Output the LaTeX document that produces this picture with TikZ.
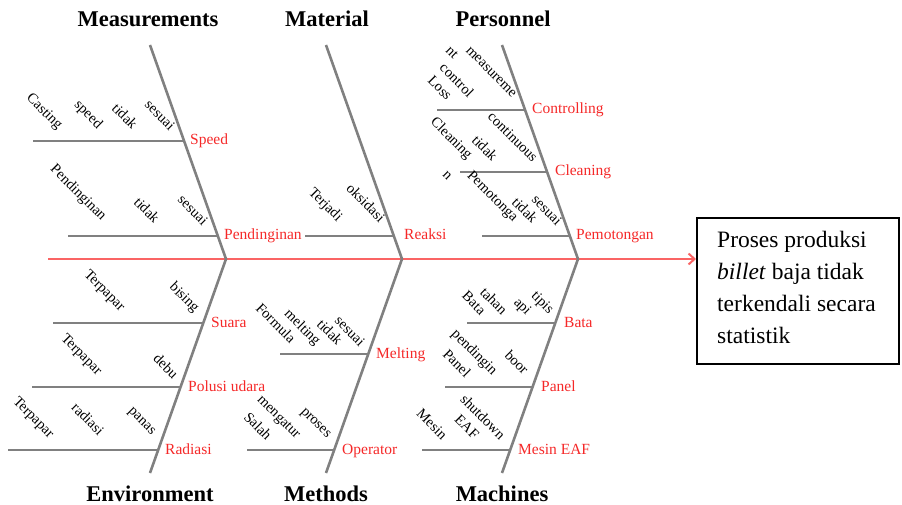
\documentclass[tikz,border=0pt]{standalone}
\usepackage{fontspec}
\setmainfont{Liberation Serif}
\usetikzlibrary{arrows.meta}
\definecolor{bonegray}{RGB}{128,128,128}
\definecolor{spinered}{RGB}{250,100,100}
\definecolor{labred}{RGB}{245,40,40}
\begin{document}
\begin{tikzpicture}[x=1pt,y=-1pt,
  bone/.style={draw=bonegray,line width=2.6pt},
  twig/.style={draw=bonegray,line width=2.6pt},
  title/.style={font=\fontsize{22.5}{26}\selectfont\bfseries,anchor=center,inner sep=0pt},
  cause/.style={font=\fontsize{15.5}{18}\selectfont,text=labred,anchor=base west,inner sep=0pt},
  word/.style={font=\fontsize{14.5}{16}\selectfont,rotate=-45,anchor=center,inner sep=0pt}]
\useasboundingbox (0,0) rectangle (902,505);
% effect box
\node[draw=black,line width=1.8pt,minimum width=202pt,minimum height=146pt,anchor=north west,inner sep=0pt] (effect) at (696,217) {};
\node[font=\fontsize{23.5}{32}\selectfont,anchor=north west,align=left,inner sep=0pt] (efftext) at (717,231)
  {Proses produksi\\\textit{billet} baja tidak\\terkendali secara\\statistik};
% spine
\coordinate (tail) at (48,259);
\draw[draw=spinered,line width=2pt,-{Straight Barb[length=6pt,width=11pt,line width=2pt]}] (tail) -- (tail -| effect.west);
% bone joints
\coordinate (j1) at (226,259);
\coordinate (j2) at (402,259);
\coordinate (j3) at (578,259);
\coordinate (t1) at (150,45);
\coordinate (t2) at (326,45);
\coordinate (t3) at (502,45);
\coordinate (b1) at (150,473);
\coordinate (b2) at (326,473);
\coordinate (b3) at (502,473);
\draw[bone] (t1) -- (j1) -- (b1);
\draw[bone] (t2) -- (j2) -- (b2);
\draw[bone] (t3) -- (j3) -- (b3);
% titles
\node[title] (tMeas) at (148,19) {Measurements};
\node[title] (tMat) at (327,19) {Material};
\node[title] (tPers) at (503,19) {Personnel};
\node[title] (tEnv) at (150,494) {Environment};
\node[title] (tMeth) at (326,494) {Methods};
\node[title] (tMach) at (502,494) {Machines};
% branches: Measurements
\coordinate (s1) at (33,141);  \coordinate (e1) at (183.5,141);
\coordinate (s2) at (68,236);  \coordinate (e2) at (217.5,236);
\draw[twig] (s1) -- (e1);
\draw[twig] (s2) -- (e2);
\node[cause] (lSpeed) at (190,145) {Speed};
\node[cause] (lPend) at (224,240) {Pendinginan};
\node[word] at (44,112) {Casting};
\node[word] at (88,115) {speed};
\node[word] at (125,116) {tidak};
\node[word] at (160,115) {sesuai};
\node[word] at (78,193) {Pendinginan};
\node[word] at (147,210) {tidak};
\node[word] at (193,210) {sesuai};
% Material
\coordinate (s3) at (305,236); \coordinate (e3) at (393.5,236);
\draw[twig] (s3) -- (e3);
\node[cause] (lReaksi) at (404,240) {Reaksi};
\node[word] at (325,205) {Terjadi};
\node[word] at (366,203) {oksidasi};
% Personnel
\coordinate (s4) at (437,110); \coordinate (e4) at (525,110);
\coordinate (s5) at (460,172); \coordinate (e5) at (547,172);
\coordinate (s6) at (482,236); \coordinate (e6) at (570,236);
\draw[twig] (s4) -- (e4);
\draw[twig] (s5) -- (e5);
\draw[twig] (s6) -- (e6);
\node[cause] (lCtrl) at (532,114) {Controlling};
\node[cause] (lClean) at (555,176) {Cleaning};
\node[cause] (lPemo) at (576,240) {Pemotongan};
\node[word] at (452,53) {nt};
\node[word] at (491,72) {measureme};
\node[word] at (457,80) {control};
\node[word] at (440,88) {Loss};
\node[word] at (513,137) {continuous};
\node[word] at (451,139) {Cleaning};
\node[word] at (485,148) {tidak};
\node[word] at (447,176) {n};
\node[word] at (492,197) {Pemotonga};
\node[word] at (525,210) {tidak};
\node[word] at (547,210) {sesuai};
% Environment
\coordinate (s7) at (53,323);  \coordinate (e7) at (203,323);
\coordinate (s8) at (32,387);  \coordinate (e8) at (181,387);
\coordinate (s9) at (8,450);   \coordinate (e9) at (158,450);
\draw[twig] (s7) -- (e7);
\draw[twig] (s8) -- (e8);
\draw[twig] (s9) -- (e9);
\node[cause] (lSuara) at (211,327) {Suara};
\node[cause] (lPolusi) at (188,391) {Polusi udara};
\node[cause] (lRad) at (165,454) {Radiasi};
\node[word] at (104,291) {Terpapar};
\node[word] at (184,298) {bising};
\node[word] at (81,355) {Terpapar};
\node[word] at (166,366) {debu};
\node[word] at (33,418) {Terpapar};
\node[word] at (88,419) {radiasi};
\node[word] at (141,422) {panas};
% Methods
\coordinate (s10) at (280,354); \coordinate (e10) at (368,354);
\coordinate (s11) at (247,450); \coordinate (e11) at (334,450);
\draw[twig] (s10) -- (e10);
\draw[twig] (s11) -- (e11);
\node[cause] (lMelt) at (376,358) {Melting};
\node[cause] (lOper) at (342,454) {Operator};
\node[word] at (276,323) {Formula};
\node[word] at (302,328) {melting};
\node[word] at (330,332) {tidak};
\node[word] at (350,331) {sesuai};
\node[word] at (278,418) {mengatur};
\node[word] at (258,426) {Salah};
\node[word] at (315,424) {proses};
% Machines
\coordinate (s12) at (467,323); \coordinate (e12) at (555,323);
\coordinate (s13) at (445,387); \coordinate (e13) at (533,387);
\coordinate (s14) at (422,450); \coordinate (e14) at (510,450);
\draw[twig] (s12) -- (e12);
\draw[twig] (s13) -- (e13);
\draw[twig] (s14) -- (e14);
\node[cause] (lBata) at (564,327) {Bata};
\node[cause] (lPanel) at (541,391) {Panel};
\node[cause] (lMesin) at (518,454) {Mesin EAF};
\node[word] at (474,303) {Bata};
\node[word] at (494,301) {tahan};
\node[word] at (522,307) {api};
\node[word] at (542,303) {tipis};
\node[word] at (474,353) {pendingin};
\node[word] at (457,363) {Panel};
\node[word] at (517,362) {boor};
\node[word] at (432,424) {Mesin};
\node[word] at (467,427) {EAF};
\node[word] at (483,417) {shutdown};
\end{tikzpicture}
\end{document}
